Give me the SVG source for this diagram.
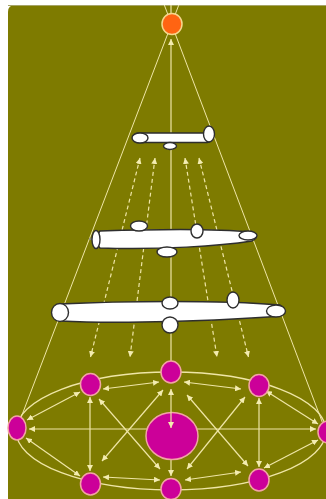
<svg xmlns="http://www.w3.org/2000/svg" width="326" height="499" viewBox="0 0 326 499">
<style>
.ln{stroke:#efe6a6;stroke-width:1.2;fill:none}
.cone{stroke:#efe6a6;stroke-width:1;fill:none}
.dash{stroke:#efe6a6;stroke-width:1.2;fill:none;stroke-dasharray:4 3}
.arr{marker-start:url(#ah);marker-end:url(#ah)}
.arr1{marker-end:url(#ah)}
.wh{fill:#ffffff;stroke:#2e2e2e;stroke-width:1.4}
.mg{fill:#cc0099;stroke:#f2a4a4;stroke-width:1.5}
.ring{stroke:#efe6a6;stroke-width:1.3;fill:none}
</style>
<defs>
<marker id="ah" viewBox="0 0 6 6" refX="6" refY="3" markerWidth="6" markerHeight="6" markerUnits="userSpaceOnUse" orient="auto-start-reverse">
<path d="M0,0 L6,3 L0,6 z" fill="#f3ecb0"/>
</marker>
</defs>
<rect x="0" y="0" width="326" height="499" fill="#ffffff"/>
<path d="M8,12 Q8,5 15,5 L326,5 L326,499 L8,499 Z" fill="#7e7b00"/>
<line x1="8" y1="5.5" x2="326" y2="5.5" stroke="#a6a466" stroke-width="1"/>

<g id="connectors">
<line class="cone" x1="178.8" y1="5" x2="17" y2="428"/>
<line class="cone" x1="164.3" y1="5" x2="326" y2="432"/>
<line class="ln" x1="171" y1="5" x2="171" y2="20"/>
<line class="ln arr1" x1="171" y1="361" x2="171" y2="39"/>
<line class="dash arr" x1="140" y1="158" x2="90.5" y2="357"/>
<line class="dash arr" x1="155" y1="158" x2="130" y2="357"/>
<line class="dash arr" x1="185" y1="158" x2="217" y2="357"/>
<line class="dash arr" x1="199" y1="158" x2="248.5" y2="357"/>
<ellipse class="ring" cx="171" cy="431" rx="155" ry="59"/>
<line class="ln arr" x1="103" y1="389" x2="159" y2="382"/>
<line class="ln arr" x1="184" y1="382" x2="241" y2="389"/>
<line class="ln arr" x1="27" y1="420" x2="80" y2="392"/>
<line class="ln arr" x1="266" y1="391" x2="318" y2="424"/>
<line class="ln arr" x1="29" y1="429" x2="316" y2="429"/>
<line class="ln arr" x1="26" y1="438" x2="80" y2="476"/>
<line class="ln arr" x1="103" y1="477" x2="160" y2="480"/>
<line class="ln arr" x1="185" y1="480" x2="241" y2="472"/>
<line class="ln arr" x1="264" y1="468" x2="318" y2="440"/>
<line class="ln arr" x1="90" y1="397" x2="90" y2="471"/>
<line class="ln arr" x1="259" y1="398" x2="259" y2="467"/>
<line class="ln arr" x1="99" y1="399" x2="160" y2="469"/>
<line class="ln arr" x1="163" y1="390" x2="102" y2="461"/>
<line class="ln arr" x1="187" y1="395" x2="248" y2="466"/>
<line class="ln arr" x1="245" y1="397" x2="187" y2="469"/>
<line class="ln arr1" x1="171" y1="460" x2="171" y2="476"/>
</g>

<g id="source">
<ellipse cx="172" cy="24" rx="10" ry="10.5" fill="#ff6412" stroke="#f6d78c" stroke-width="1.5"/>
</g>

<g id="layer1">
<rect class="wh" x="133" y="133" width="79" height="9.5" rx="4.75"/>
<ellipse class="wh" cx="140" cy="138" rx="8" ry="5"/>
<ellipse class="wh" cx="209" cy="134" rx="5.5" ry="8"/>
<ellipse class="wh" cx="170" cy="146" rx="6.5" ry="3.5"/>
</g>

<g id="layer2">
<path class="wh" d="M100,231 C160,229 220,229 252,232 Q261,236 252,241 C220,246 160,250 100,248 Q92,240 100,231 Z"/>
<line x1="89" y1="239" x2="93" y2="239" stroke="#8a8a8a" stroke-width="1.5"/>
<ellipse class="wh" cx="96" cy="239.5" rx="4" ry="9"/>
<ellipse class="wh" cx="139" cy="226" rx="8.5" ry="5"/>
<ellipse class="wh" cx="197" cy="231" rx="6" ry="7"/>
<ellipse class="wh" cx="248" cy="235.5" rx="9" ry="4.5"/>
<ellipse class="wh" cx="167" cy="252" rx="10" ry="5"/>
</g>

<g id="layer3">
<path class="wh" d="M60,304 C120,301 220,300 280,305 Q290,311 280,316 C220,321 120,324 60,321 Z"/>
<ellipse class="wh" cx="60" cy="312.5" rx="8.5" ry="9"/>
<ellipse class="wh" cx="170" cy="303" rx="8" ry="6"/>
<ellipse class="wh" cx="233" cy="300" rx="6" ry="8"/>
<ellipse class="wh" cx="276" cy="311" rx="9.5" ry="6"/>
<ellipse class="wh" cx="170" cy="325" rx="8" ry="8"/>
</g>

<g id="node-top"><ellipse class="mg" cx="171" cy="372" rx="10" ry="11"/></g>
<g id="node-top-left"><ellipse class="mg" cx="90.5" cy="384.5" rx="10" ry="11"/></g>
<g id="node-top-right"><ellipse class="mg" cx="259" cy="385.5" rx="10" ry="11"/></g>
<g id="node-left"><ellipse class="mg" cx="17" cy="428" rx="9" ry="12"/></g>
<g id="node-right"><ellipse class="mg" cx="328" cy="432" rx="10" ry="11"/></g>
<g id="node-center"><ellipse class="mg" cx="172" cy="436" rx="26" ry="23.5"/></g>
<g id="node-bottom-left"><ellipse class="mg" cx="90.5" cy="484" rx="10" ry="11"/></g>
<g id="node-bottom"><ellipse class="mg" cx="171" cy="489" rx="10" ry="10.5"/></g>
<g id="node-bottom-right"><ellipse class="mg" cx="259" cy="480" rx="10" ry="11"/></g>

<g id="connectors-front">
<line class="ln arr" x1="171" y1="389" x2="171" y2="428"/>
</g>
</svg>
